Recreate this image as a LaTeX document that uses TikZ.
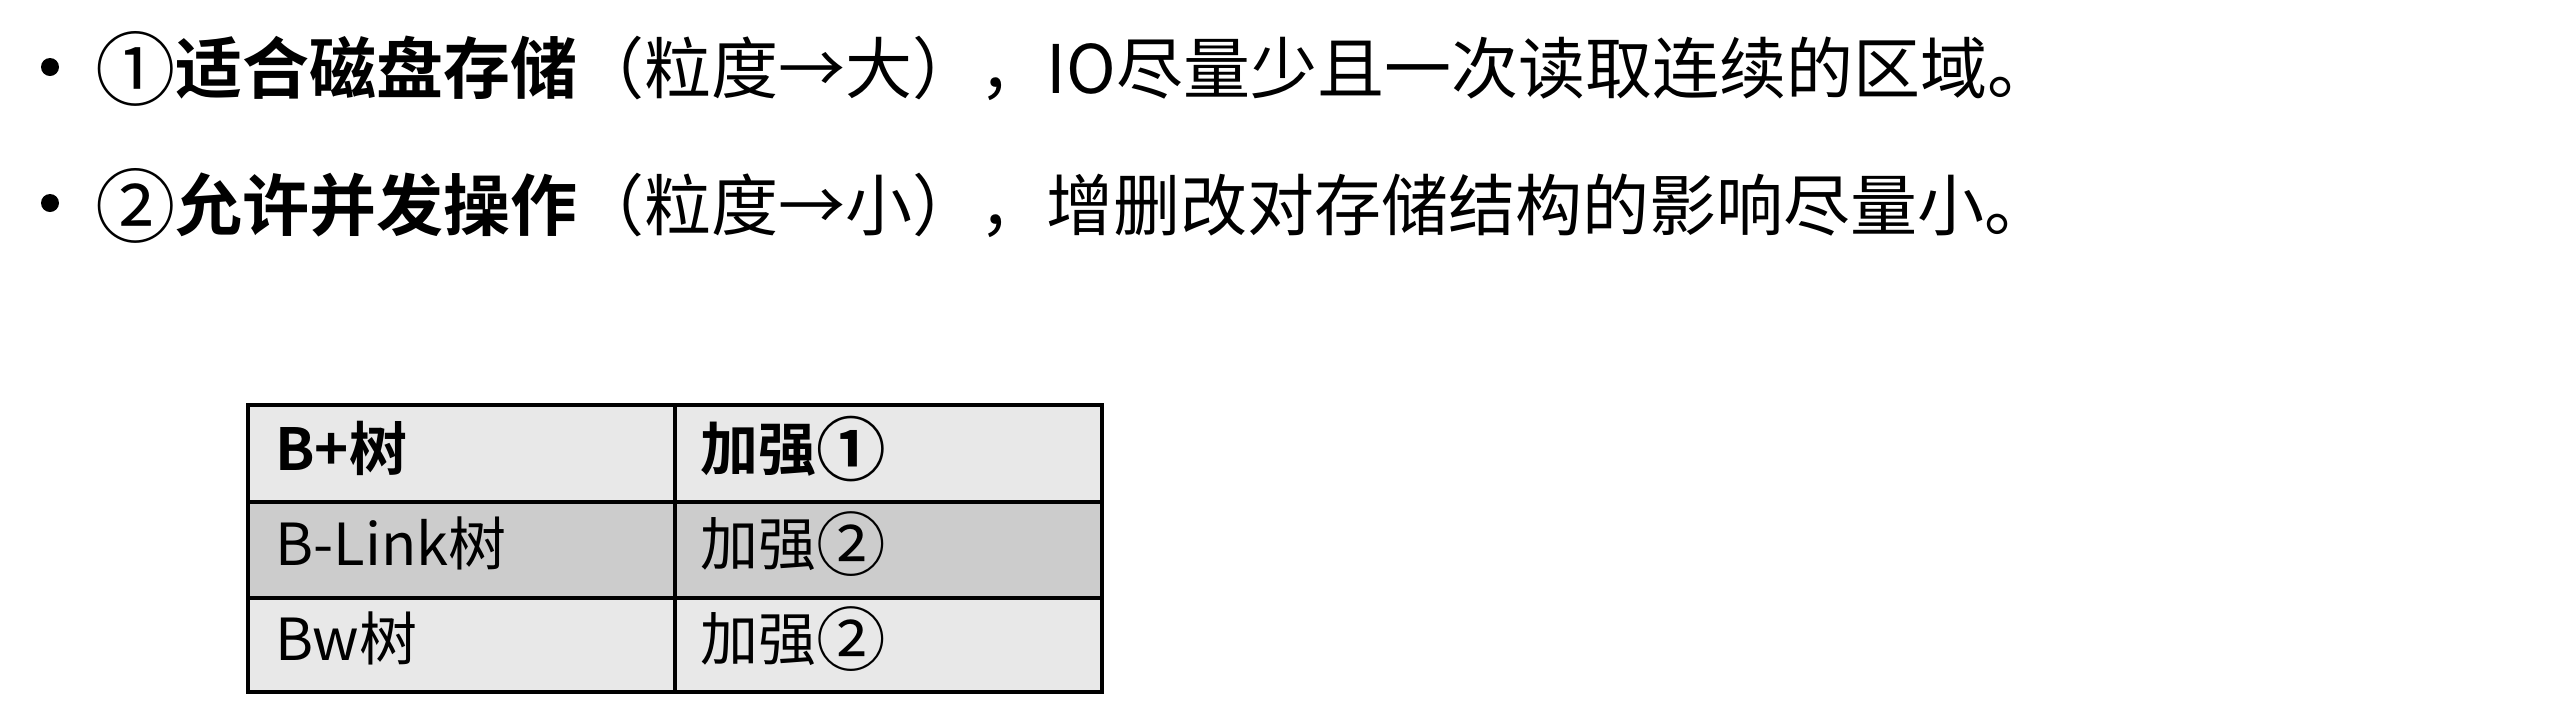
\documentclass[tikz,border=0pt]{standalone}
\usepackage{graphicx}
\usepackage{fontspec}
\setmainfont{Noto Sans CJK SC}[BoldFont={Noto Sans CJK SC Bold}]
\newcommand{\circd}[1]{\raisebox{-0.09em}{\scalebox{1.2}{#1}}}
\begin{document}
\begin{tikzpicture}[x=0.5pt,y=-0.5pt,
  bodytext/.style={anchor=base west, inner sep=0pt, font=\fontsize{33.5}{40}\selectfont},
  celltext/.style={anchor=base west, inner sep=0pt, font=\fontsize{29}{35}\selectfont},
  bulletdot/.style={circle, fill=black, inner sep=0pt, minimum size=9pt},
  gridline/.style={line width=1.6pt, black},
  lightrow/.style={fill=gray!18},
  darkrow/.style={fill=gray!40}]
\useasboundingbox (0,0) rectangle (2576,714);
\fill[white] (0,0) rectangle (2576,714);
% bullets
\node[bulletdot] (b1) at (50,67) {};
\node[bulletdot] (b2) at (50,203) {};
\node[bodytext] (l1) at (95,93) {\circd{①}{\bfseries 适合磁盘存储}（粒度→大），IO尽量少且一次读取连续的区域。};
\node[bodytext] (l2) at (95,230) {\circd{②}{\bfseries 允许并发操作}（粒度→小），增删改对存储结构的影响尽量小。};
% table fills
\fill[lightrow] (248,405) rectangle (1102,502);
\fill[darkrow] (248,502) rectangle (1102,598);
\fill[lightrow] (248,598) rectangle (1102,692);
% grid
\draw[gridline] (248,405) rectangle (1102,692);
\draw[gridline] (248,502) -- (1102,502);
\draw[gridline] (248,598) -- (1102,598);
\draw[gridline] (675,405) -- (675,692);
% cell texts
\node[celltext] (c11) at (275,470) {\bfseries B+树};
\node[celltext] (c12) at (700,470) {\bfseries 加强\circd{①}};
\node[celltext] (c21) at (275,565) {B-Link树};
\node[celltext] (c22) at (700,565) {加强\circd{②}};
\node[celltext] (c31) at (275,660) {Bw树};
\node[celltext] (c32) at (700,660) {加强\circd{②}};
\end{tikzpicture}
\end{document}
